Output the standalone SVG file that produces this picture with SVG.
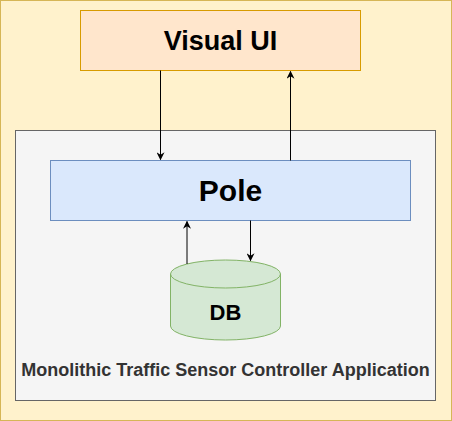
<svg xmlns="http://www.w3.org/2000/svg" width="452" height="421" viewBox="0 0 452 421">
<defs>
<marker id="arr" viewBox="0 0 10 10" refX="9" refY="5" markerWidth="8" markerHeight="8" markerUnits="userSpaceOnUse" orient="auto">
<path d="M0,0 L10,5 L0,10 L3,5 Z" fill="#000"/>
</marker>
</defs>
<style>
text{font-family:"Liberation Sans",Arial,sans-serif;font-weight:bold;text-anchor:middle}
.edge{stroke:#000;stroke-width:1;fill:none;marker-end:url(#arr)}
</style>
<g id="outer"><rect x="0.5" y="0.5" width="451" height="420" fill="#fff2cc" stroke="#d6b656"/></g>
<g id="app">
<rect x="15.5" y="130.5" width="420" height="270" fill="#f5f5f5" stroke="#666666"/>
<text x="225.5" y="376" font-size="18" fill="#333333">Monolithic Traffic Sensor Controller Application</text>
</g>
<g id="visual-ui">
<rect x="80.5" y="10.5" width="280" height="60" fill="#ffe6cc" stroke="#d79b00"/>
<text x="220.5" y="50" font-size="27" fill="#000">Visual UI</text>
</g>
<g id="pole">
<rect x="50.5" y="160.5" width="360" height="60" fill="#dae8fc" stroke="#6c8ebf"/>
<text x="230.5" y="201" font-size="30" fill="#000">Pole</text>
</g>
<g id="db">
<path d="M170.5,274 A55,14 0 0 1 280.5,274 L280.5,326 A55,14 0 0 1 170.5,326 Z" fill="#d5e8d4" stroke="#82b366"/>
<path d="M170.5,274 A55,14 0 0 0 280.5,274" fill="none" stroke="#82b366"/>
<text x="225.5" y="320" font-size="22" fill="#000">DB</text>
</g>
<g id="connectors">
<line class="edge" x1="160.5" y1="70.5" x2="160.5" y2="159.5"/>
<line class="edge" x1="290.5" y1="160.5" x2="290.5" y2="71.5"/>
<line class="edge" x1="187" y1="264" x2="187" y2="221.5"/>
<line class="edge" x1="250.5" y1="220.5" x2="250.5" y2="260.5"/>
</g>
</svg>
